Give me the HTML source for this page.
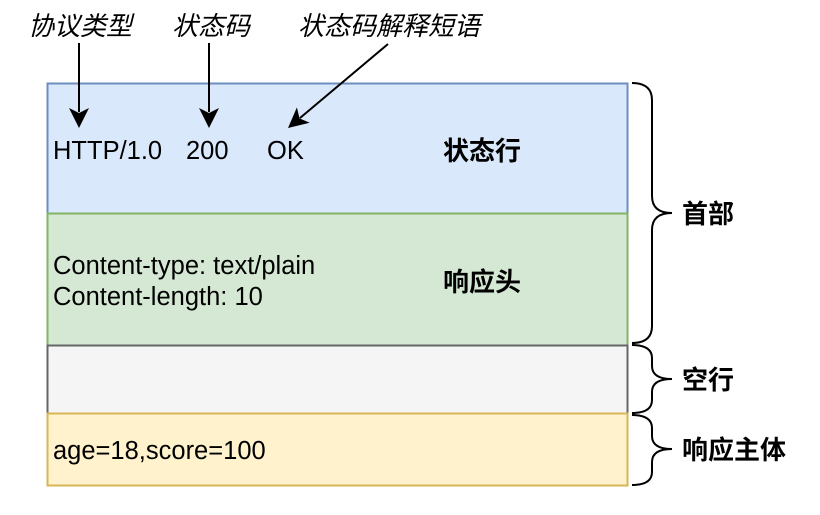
<!DOCTYPE html>
<html><head><meta charset="utf-8"><style>
html,body{margin:0;padding:0;background:#fff;}
svg{display:block;}
text{font-family:"Liberation Sans","Noto Sans CJK SC",sans-serif;fill:#000;}
.b{font-weight:bold;font-size:26px;}
.t{font-size:25.5px;}
.i{font-style:italic;font-size:26px;}
</style></head><body>
<svg width="820" height="515" viewBox="0 0 820 515" xmlns="http://www.w3.org/2000/svg">
<rect x="47.5" y="83.5" width="580" height="130" fill="#dae8fc" stroke="#6c8ebf" stroke-width="2"/>
<rect x="47.5" y="213.5" width="580" height="132" fill="#d5e8d4" stroke="#82b366" stroke-width="2"/>
<rect x="47.5" y="345.5" width="580" height="68" fill="#f5f5f5" stroke="#666" stroke-width="2"/>
<rect x="47.5" y="413.5" width="580" height="72" fill="#fff2cc" stroke="#d6b656" stroke-width="2"/>

<text class="i" x="28" y="35">协议类型</text>
<text class="i" x="172" y="35">状态码</text>
<text class="i" x="298" y="35">状态码解释短语</text>

<g stroke="#000" stroke-width="2" fill="none">
<line x1="79" y1="43" x2="79" y2="112"/>
<line x1="209" y1="43" x2="209" y2="112"/>
<line x1="388" y1="44" x2="300" y2="118"/>
</g>
<path d="M69,108 L79,128 L89,108 L79,113 Z" fill="#000"/>
<path d="M199,108 L209,128 L219,108 L209,113 Z" fill="#000"/>
<path d="M288,128 L309.7,122.8 L299.5,118.4 L296.9,107.4 Z" fill="#000"/>

<text class="t" x="53" y="159">HTTP/1.0</text>
<text class="t" x="186" y="159">200</text>
<text class="t" x="267" y="159">OK</text>
<text class="b" x="443" y="160">状态行</text>

<text class="t" x="53" y="274">Content-type: text/plain</text>
<text class="t" x="53" y="305">Content-length: 10</text>
<text class="b" x="443" y="291">响应头</text>

<text class="t" x="53" y="459">age=18,score=100</text>

<g stroke="#000" stroke-width="2" fill="none">
<path d="M632,83 Q652,83 652,100 L652,196 Q652,213 672,213 Q652,213 652,230 L652,326 Q652,343 632,343"/>
<path d="M632,345 Q652,345 652,358 L652,366 Q652,379 672,379 Q652,379 652,392 L652,400 Q652,413 632,413"/>
<path d="M632,415 Q652,415 652,428 L652,436 Q652,449 672,449 Q652,449 652,462 L652,472 Q652,485 632,485"/>
</g>
<text class="b" x="682" y="223">首部</text>
<text class="b" x="682" y="389">空行</text>
<text class="b" x="682" y="459">响应主体</text>
</svg>
</body></html>
